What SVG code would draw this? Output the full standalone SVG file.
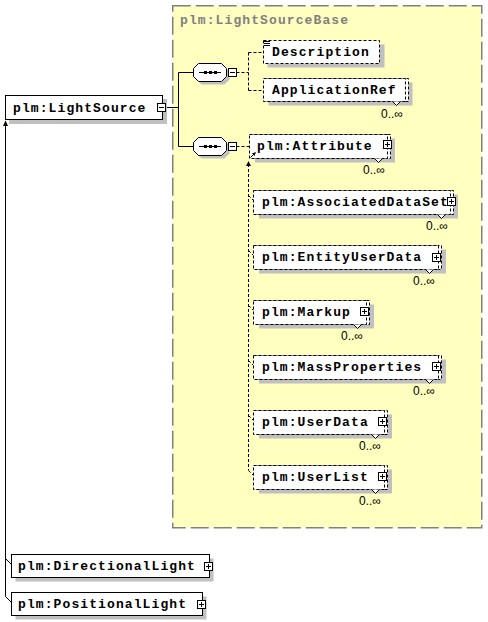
<svg xmlns="http://www.w3.org/2000/svg" width="488" height="622" viewBox="0 0 488 622">
<style>
.t{font-family:"Liberation Mono","DejaVu Sans Mono",monospace;font-weight:bold;font-size:13px;letter-spacing:1.1px;fill:#000}
.title{font-family:"Liberation Mono","DejaVu Sans Mono",monospace;font-weight:bold;font-size:13px;letter-spacing:1.1px;fill:#808080}
.occ{font-family:"Liberation Sans",Arial,sans-serif;font-size:12px;fill:#000}
.box{fill:#fff;stroke:#000;stroke-width:1}
.dbox{fill:#fff;stroke:#000;stroke-width:1;stroke-dasharray:3 2}
.sh{fill:#c0c0c0}
.ln{fill:none;stroke:#000;stroke-width:1}
.dl{fill:none;stroke:#000;stroke-width:1;stroke-dasharray:3 2}
.pm{fill:#fff;stroke:#000;stroke-width:1}
.v{fill:#fff;stroke:#000;stroke-width:1}
</style>
<rect x="0" y="0" width="488" height="622" fill="#fff"/>

<g id="LightSourceBase">
<rect x="172.75" y="5.75" width="309" height="522" fill="#ffffc0" stroke="#808080" stroke-width="1.5" stroke-dasharray="18 5"/>
<text class="title" x="180" y="24">plm:LightSourceBase</text>
</g>

<g id="connectors">
<path class="ln" d="M165.5 107.5H178.5M178.5 72.5V146.5M178.5 72.5H193.5M178.5 146.5H193.5"/>
<path class="ln" d="M226.5 72.5H228.5M226.5 146.5H228.5"/>
<path class="dl" d="M236.5 72.5H248.5M248.5 52.5V90.5M248.5 52.5H263.5M248.5 90.5H263.5"/>
<path class="dl" d="M236.5 146.5H249.5"/>
<path class="dl" d="M248.5 164V470.5"/>
<polygon points="246,166 251,166 248.5,161" fill="#000"/>
<path class="dl" d="M248.5 195.5L253.5 200.5M248.5 250.5L253.5 255.5M248.5 305.5L253.5 310.5M248.5 360.5L253.5 365.5M248.5 415.5L253.5 420.5M248.5 470.5L253.5 475.5"/>
<path class="ln" d="M5.5 124V596.5"/>
<polygon points="3,126 8,126 5.5,120.5" fill="#000"/>
<path class="ln" d="M5.5 558.5L11.5 564.5M5.5 596.5L11.5 602.5"/>
</g>

<g id="LightSource">
<rect class="sh" x="9" y="99" width="158" height="25"/>
<rect class="box" x="5.5" y="95.5" width="157" height="24"/>
<text class="t" x="13" y="112">plm:LightSource</text>
<rect class="pm" x="157.5" y="103.5" width="8" height="8"/>
<path class="ln" d="M159 107.5H164"/>
</g>

<g id="sequence1">
<polygon class="sh" points="201.5,66.5 224.5,66.5 229.5,71.5 229.5,79.5 224.5,84.5 201.5,84.5 196.5,79.5 196.5,71.5"/>
<polygon class="box" points="198.5,63.5 221.5,63.5 226.5,68.5 226.5,76.5 221.5,81.5 198.5,81.5 193.5,76.5 193.5,68.5"/>
<path class="ln" d="M199 72.5H221"/>
<rect x="204" y="71" width="3" height="3" fill="#000"/>
<rect x="209" y="71" width="3" height="3" fill="#000"/>
<rect x="214" y="71" width="3" height="3" fill="#000"/>
<rect class="pm" x="228.5" y="68.5" width="8" height="8"/>
<path class="ln" d="M230 72.5H235"/>
</g>

<g id="sequence2">
<polygon class="sh" points="201.5,140.5 224.5,140.5 229.5,145.5 229.5,153.5 224.5,158.5 201.5,158.5 196.5,153.5 196.5,145.5"/>
<polygon class="box" points="198.5,137.5 221.5,137.5 226.5,142.5 226.5,150.5 221.5,155.5 198.5,155.5 193.5,150.5 193.5,142.5"/>
<path class="ln" d="M199 146.5H221"/>
<rect x="204" y="145" width="3" height="3" fill="#000"/>
<rect x="209" y="145" width="3" height="3" fill="#000"/>
<rect x="214" y="145" width="3" height="3" fill="#000"/>
<rect class="pm" x="228.5" y="142.5" width="8" height="8"/>
<path class="ln" d="M230 146.5H235"/>
</g>

<g id="Description">
<rect class="sh" x="267.5" y="44.5" width="117" height="23"/>
<rect class="dbox" x="263.5" y="40.5" width="116" height="23"/>
<path class="ln" d="M264 41.5H270M264 43.5H270M264 45.5H270"/>
<text class="t" x="272" y="56">Description</text>
</g>

<g id="ApplicationRef">
<rect class="sh" x="268.5" y="82.5" width="144" height="23"/>
<rect class="dbox" x="266.5" y="78.5" width="142" height="23"/>
<rect class="dbox" x="263.5" y="78.5" width="142" height="23"/>
<polyline class="v" points="392.5,101.5 396.5,105.5 400.5,101.5"/>
<text class="t" x="272" y="94">ApplicationRef</text>
<text class="occ" x="381" y="118">0..∞</text>
</g>

<g id="Attribute">
<rect class="sh" x="255" y="138.5" width="140" height="24"/>
<rect class="dbox" x="252.5" y="134.5" width="138" height="24"/>
<rect class="dbox" x="249.5" y="134.5" width="138" height="24"/>
<path class="ln" d="M250.5 157.5L254.5 153.5"/>
<polygon points="256,152 252,153.5 254.5,156" fill="#000"/>
<text class="t" x="257" y="150">plm:Attribute</text>
<rect class="pm" x="383.5" y="140.5" width="8" height="8"/>
<path class="ln" d="M385 144.5H390M387.5 142V147"/>
<polyline class="v" points="374.5,158.5 378.5,162.5 382.5,158.5"/>
<text class="occ" x="363" y="174">0..∞</text>
</g>

<g id="AssociatedDataSet">
<rect class="sh" x="259" y="194.5" width="199" height="24"/>
<rect class="dbox" x="256.5" y="190.5" width="197" height="24"/>
<rect class="dbox" x="253.5" y="190.5" width="197" height="24"/>
<text class="t" x="262" y="206">plm:AssociatedDataSet</text>
<rect class="pm" x="447.5" y="197.5" width="8" height="8"/>
<path class="ln" d="M449 201.5H454M451.5 199V204"/>
<polyline class="v" points="437.5,214.5 441.5,218.5 445.5,214.5"/>
<text class="occ" x="426" y="230">0..∞</text>
</g>

<g id="EntityUserData">
<rect class="sh" x="259" y="249.5" width="187" height="24"/>
<rect class="dbox" x="256.5" y="245.5" width="185" height="24"/>
<rect class="dbox" x="253.5" y="245.5" width="185" height="24"/>
<text class="t" x="262" y="261">plm:EntityUserData</text>
<rect class="pm" x="432.5" y="253.5" width="8" height="8"/>
<path class="ln" d="M434 257.5H439M436.5 255V260"/>
<polyline class="v" points="425.5,269.5 429.5,273.5 433.5,269.5"/>
<text class="occ" x="413" y="285">0..∞</text>
</g>

<g id="Markup">
<rect class="sh" x="259" y="304.5" width="115" height="24"/>
<rect class="dbox" x="256.5" y="300.5" width="113" height="24"/>
<rect class="dbox" x="253.5" y="300.5" width="113" height="24"/>
<text class="t" x="262" y="316">plm:Markup</text>
<rect class="pm" x="360.5" y="307.5" width="8" height="8"/>
<path class="ln" d="M362 311.5H367M364.5 309V314"/>
<polyline class="v" points="353.5,324.5 357.5,328.5 361.5,324.5"/>
<text class="occ" x="341" y="340">0..∞</text>
</g>

<g id="MassProperties">
<rect class="sh" x="259" y="359.5" width="187" height="24"/>
<rect class="dbox" x="256.5" y="355.5" width="185" height="24"/>
<rect class="dbox" x="253.5" y="355.5" width="185" height="24"/>
<text class="t" x="262" y="371">plm:MassProperties</text>
<rect class="pm" x="432.5" y="362.5" width="8" height="8"/>
<path class="ln" d="M434 366.5H439M436.5 364V369"/>
<polyline class="v" points="425.5,379.5 429.5,383.5 433.5,379.5"/>
<text class="occ" x="413" y="395">0..∞</text>
</g>

<g id="UserData">
<rect class="sh" x="259" y="414.5" width="133" height="24"/>
<rect class="dbox" x="256.5" y="410.5" width="131" height="24"/>
<rect class="dbox" x="253.5" y="410.5" width="131" height="24"/>
<text class="t" x="262" y="426">plm:UserData</text>
<rect class="pm" x="378.5" y="417.5" width="8" height="8"/>
<path class="ln" d="M380 421.5H385M382.5 419V424"/>
<polyline class="v" points="371.5,434.5 375.5,438.5 379.5,434.5"/>
<text class="occ" x="359" y="450">0..∞</text>
</g>

<g id="UserList">
<rect class="sh" x="259" y="469.5" width="133" height="24"/>
<rect class="dbox" x="256.5" y="465.5" width="131" height="24"/>
<rect class="dbox" x="253.5" y="465.5" width="131" height="24"/>
<text class="t" x="262" y="481">plm:UserList</text>
<rect class="pm" x="378.5" y="472.5" width="8" height="8"/>
<path class="ln" d="M380 476.5H385M382.5 474V479"/>
<polyline class="v" points="371.5,489.5 375.5,493.5 379.5,489.5"/>
<text class="occ" x="359" y="505">0..∞</text>
</g>

<g id="DirectionalLight">
<rect class="sh" x="15.5" y="558.5" width="198" height="23"/>
<rect class="box" x="11.5" y="554.5" width="198" height="23"/>
<text class="t" x="18" y="570">plm:DirectionalLight</text>
<rect class="pm" x="204.5" y="562.5" width="8" height="8"/>
<path class="ln" d="M206 566.5H211M208.5 564V569"/>
</g>

<g id="PositionalLight">
<rect class="sh" x="15.5" y="596.5" width="191" height="23"/>
<rect class="box" x="11.5" y="592.5" width="191" height="23"/>
<text class="t" x="18" y="608">plm:PositionalLight</text>
<rect class="pm" x="197.5" y="600.5" width="8" height="8"/>
<path class="ln" d="M199 604.5H204M201.5 602V607"/>
</g>
</svg>
